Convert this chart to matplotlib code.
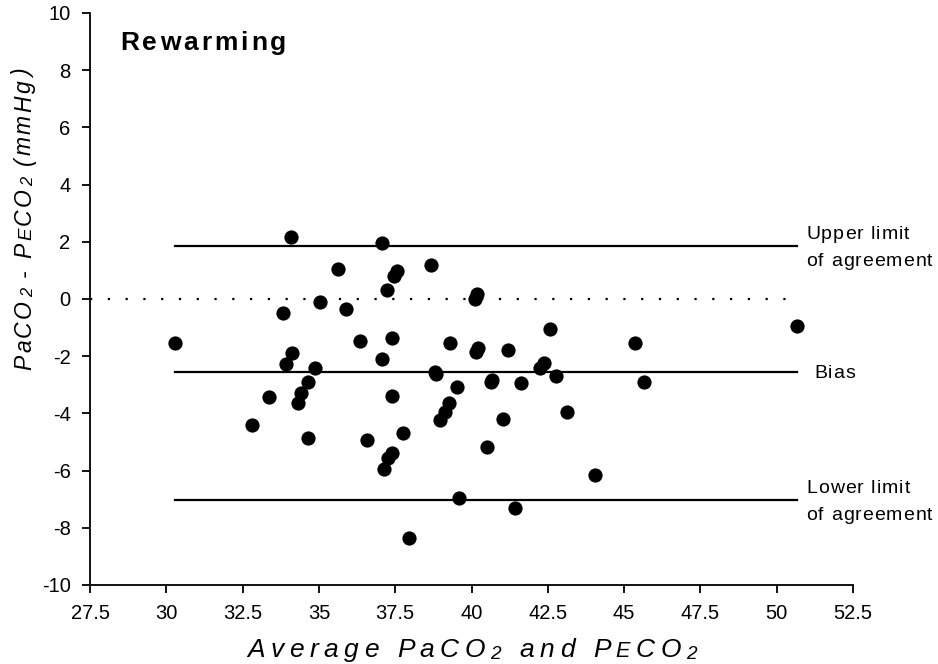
import matplotlib
matplotlib.use("Agg")
import matplotlib.pyplot as plt
from matplotlib.font_manager import FontProperties

plt.rcParams['font.family'] = ['Liberation Sans', 'DejaVu Sans']
plt.rcParams['axes.unicode_minus'] = False

avg_x = [30.30, 34.10, 37.06, 35.61, 37.56, 37.45, 38.67, 37.23, 35.04, 35.89,
         33.84, 40.18, 40.11, 36.35, 37.39, 39.30, 34.11, 33.93, 37.06, 34.87,
         38.81, 38.84, 39.52, 34.64, 34.41, 34.30, 37.40, 39.25, 39.14, 38.98,
         34.64, 36.59, 37.75, 37.41, 37.28, 37.12, 39.60, 42.58, 40.20, 40.16,
         41.21, 42.37, 42.26, 40.67, 40.65, 41.62, 42.77, 43.13, 41.03, 40.50,
         41.43, 37.94, 45.37, 45.64, 44.04, 50.67, 33.37, 32.82]
diff_y = [-1.55, 2.16, 1.97, 1.05, 0.99, 0.80, 1.18, 0.31, -0.12, -0.36,
          -0.50, 0.17, -0.01, -1.47, -1.35, -1.54, -1.90, -2.27, -2.09, -2.42,
          -2.54, -2.63, -3.07, -2.89, -3.30, -3.63, -3.38, -3.63, -3.94, -4.23,
          -4.86, -4.92, -4.70, -5.40, -5.57, -5.96, -6.95, -1.04, -1.72, -1.84,
          -1.78, -2.25, -2.42, -2.83, -2.90, -2.95, -2.69, -3.94, -4.20, -5.16,
          -7.32, -8.37, -1.53, -2.89, -6.15, -0.93, -3.44, -4.42]

bias = -2.56
upper_loa = 1.87
lower_loa = -7.03
title = "Rewarming"
x_ticks = [27.5, 30, 32.5, 35, 37.5, 40, 42.5, 45, 47.5, 50, 52.5]
y_ticks = [-10, -8, -6, -4, -2, 0, 2, 4, 6, 8, 10]

W, H = 938, 664
fig = plt.figure(figsize=(W / 100, H / 100), dpi=100)
ax = fig.add_axes([90 / W, 1 - 585 / H, 763 / W, 572 / H])
renderer = fig.canvas.get_renderer()


def advance(ch, fp):
    w1, _, _ = renderer.get_text_width_height_descent('x' + ch + 'x', fp, ismath=False)
    w0, _, _ = renderer.get_text_width_height_descent('xx', fp, ismath=False)
    return w1 - w0


def spaced(x, y, segs, size, spacing, rotation=0, anchor='center',
           style='normal', weight='normal'):
    """Draw text with letter spacing; x, y in figure pixels (from bottom)."""
    chars = []
    for txt, sc, dy in segs:
        fp = FontProperties(family=['Liberation Sans', 'DejaVu Sans'],
                            size=size * sc, style=style, weight=weight)
        for ch in txt:
            chars.append((ch, fp, dy * size * 100 / 72, advance(ch, fp)))
    total = sum(c[3] for c in chars) + spacing * (len(chars) - 1)
    pos = (x if rotation == 0 else y)
    if anchor == 'center':
        pos -= total / 2
    for ch, fp, dy, a in chars:
        if ch != ' ':
            if rotation == 0:
                fig.text(pos / W, (y + dy) / H, ch, fontproperties=fp,
                         ha='left', va='baseline')
            else:
                fig.text((x - dy) / W, pos / H, ch, fontproperties=fp,
                         rotation=90, rotation_mode='anchor',
                         ha='left', va='baseline')
        pos += a + spacing


ax.scatter(avg_x, diff_y, s=105, color='black', zorder=3, linewidths=0)

xmin, xmax = min(avg_x), max(avg_x)
for val in [upper_loa, bias, lower_loa]:
    ax.plot([xmin, xmax], [val, val], color='black', lw=1.6)
ax.plot([27.5, xmax], [0, 0], color='black', lw=1.6, ls=(0, (1, 7)))

ax.set_xlim(27.5, 52.5)
ax.set_ylim(-10, 10)
ax.set_xticks(x_ticks)
ax.set_xticklabels([f"{t:g}" for t in x_ticks])
ax.set_yticks(y_ticks)
ax.tick_params(direction='out', length=6, width=1.3, labelsize=14.5)
ax.tick_params(axis='x', pad=8)
ax.tick_params(axis='y', pad=8)
for s in ['top', 'right']:
    ax.spines[s].set_visible(False)
for s in ['left', 'bottom']:
    ax.spines[s].set_linewidth(1.3)

# right-side labels
lab_size = 14
for val, lines, dx in [(upper_loa, ["Upper limit", "of agreement"], 9),
                       (bias, ["Bias"], 17),
                       (lower_loa, ["Lower limit", "of agreement"], 9)]:
    px, py = ax.transData.transform((xmax, val))
    if len(lines) == 2:
        spaced(px + dx, py + 7, [(lines[0], 1, 0)], lab_size, 1.0, anchor='left')
        spaced(px + dx, py - 20, [(lines[1], 1, 0)], lab_size, 1.0, anchor='left')
    else:
        spaced(px + dx, py - 6, [(lines[0], 1, 0)], lab_size, 1.0, anchor='left')

sub = (0.72, -0.08)
xlabel = [("Average PaCO", 1, 0), ("2", *sub), (" and P", 1, 0), ("E", 0.82, 0),
          ("CO", 1, 0), ("2", *sub)]
ylabel = [("PaCO", 1, 0), ("2", *sub), (" - P", 1, 0), ("E", 0.82, 0),
          ("CO", 1, 0), ("2", *sub), (" (mmHg)", 1, 0)]
spaced(472, H - 657, xlabel, 19, 5.5, style='italic')
spaced(31, H - 220, ylabel, 16.5, 2.5, rotation=90, style='italic')
spaced(120, H - 50, [(title, 1, 0)], 19, 3.0, anchor='left', weight='bold')

fig.savefig("out.png", dpi=100)
